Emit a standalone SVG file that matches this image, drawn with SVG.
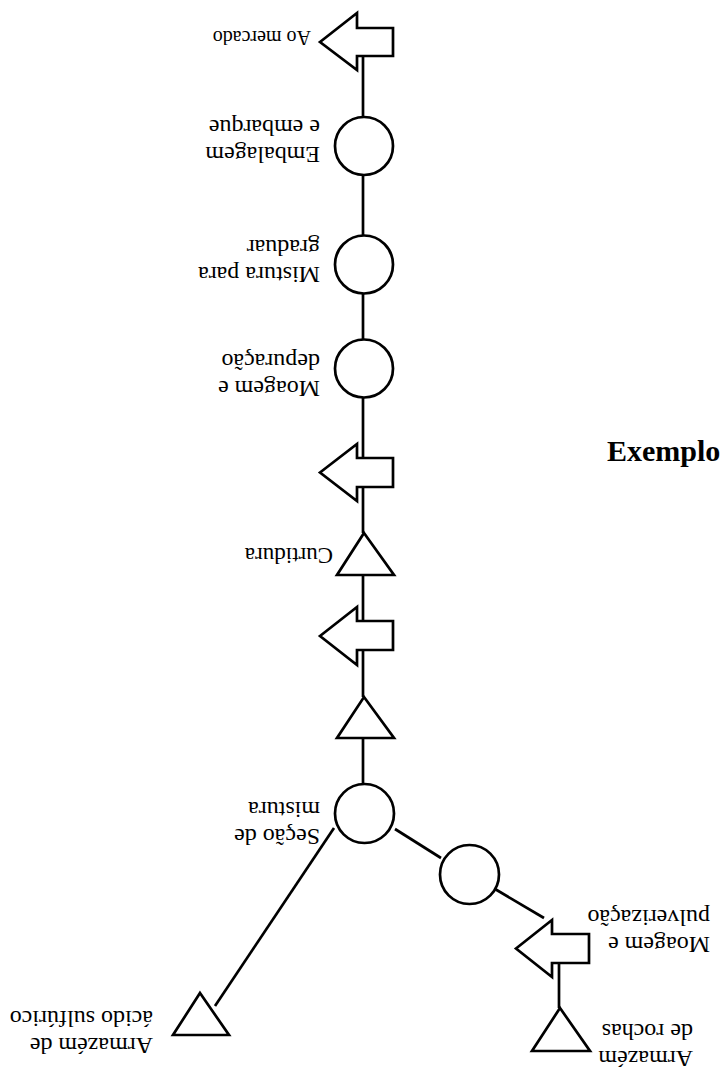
<svg xmlns="http://www.w3.org/2000/svg" width="727" height="1070" viewBox="0 0 727 1070">
  <style>
    .shape { fill: #fff; stroke: #000; stroke-width: 2.7; stroke-linejoin: miter; }
    .link { fill: none; stroke: #000; stroke-width: 2.7; }
    .label { font-family: "Liberation Serif", "Times New Roman", serif; font-size: 24px; fill: #000; }
    .title { font-family: "Liberation Serif", "Times New Roman", serif; font-size: 30px; font-weight: bold; fill: #000; }
  </style>

  <!-- connectors -->
  <g id="connectors">
    <line class="link" x1="363" y1="56" x2="363" y2="117"/>
    <line class="link" x1="363" y1="175" x2="363" y2="235"/>
    <line class="link" x1="363" y1="294" x2="363" y2="339"/>
    <line class="link" x1="363" y1="398" x2="363" y2="458"/>
    <line class="link" x1="363" y1="487" x2="363" y2="533"/>
    <line class="link" x1="363" y1="575" x2="363" y2="621"/>
    <line class="link" x1="363" y1="650" x2="363" y2="697"/>
    <line class="link" x1="363" y1="738" x2="363" y2="784"/>
    <line class="link" x1="395" y1="829" x2="441" y2="858"/>
    <line class="link" x1="495" y1="889" x2="544" y2="918"/>
    <line class="link" x1="559" y1="963" x2="559" y2="1008"/>
    <line class="link" x1="334" y1="828" x2="215" y2="1006"/>
  </g>

  <!-- nodes -->
  <g id="ao-mercado">
    <polygon class="shape" points="320,42 357,13 357,28 393,28 393,56 357,56 357,70"/>
    <text class="label" style="font-size:20px" transform="translate(311 31) rotate(180)">Ao mercado</text>
  </g>

  <g id="embalagem">
    <circle class="shape" cx="364" cy="146" r="29"/>
    <text class="label" transform="translate(320 147) rotate(180)"><tspan x="0" y="0">Embalagem</tspan><tspan x="0" y="27">e embarque</tspan></text>
  </g>

  <g id="mistura-graduar">
    <circle class="shape" cx="364" cy="264.5" r="29"/>
    <text class="label" transform="translate(320 267) rotate(180)"><tspan x="0" y="0">Mistura para</tspan><tspan x="0" y="27">graduar</tspan></text>
  </g>

  <g id="moagem-depuracao">
    <circle class="shape" cx="364" cy="368.5" r="29"/>
    <text class="label" transform="translate(320 381) rotate(180)"><tspan x="0" y="0">Moagem e</tspan><tspan x="0" y="27">depuração</tspan></text>
  </g>

  <g id="transporte-1">
    <polygon class="shape" points="320,472.5 357,444 357,458 393,458 393,487 357,487 357,501"/>
  </g>

  <g id="curtidura">
    <polygon class="shape" points="364,533 394,575 337,575"/>
    <text class="label" style="font-size:23px" transform="translate(333 548) rotate(180)">Curtidura</text>
  </g>

  <g id="transporte-2">
    <polygon class="shape" points="320,636 357,607 357,621 393,621 393,650 357,650 357,665"/>
  </g>

  <g id="armazem-intermedio">
    <polygon class="shape" points="364,697 394,738 337,738"/>
  </g>

  <g id="secao-mistura">
    <circle class="shape" cx="364.5" cy="813.5" r="29.5"/>
    <text class="label" transform="translate(320 829) rotate(180)"><tspan x="0" y="0">Seção de</tspan><tspan x="0" y="27">mistura</tspan></text>
  </g>

  <g id="britagem">
    <circle class="shape" cx="469.5" cy="874.5" r="29.5"/>
  </g>

  <g id="moagem-pulverizacao">
    <polygon class="shape" points="516,948.5 552,920 552,934 589,934 589,963 552,963 552,977"/>
    <text class="label" transform="translate(710 937) rotate(180)"><tspan x="0" y="0">Moagem e</tspan><tspan x="0" y="27">pulverização</tspan></text>
  </g>

  <g id="armazem-rochas">
    <polygon class="shape" points="560,1008 590,1051 532,1051"/>
    <text class="label" transform="translate(693 1051) rotate(180)"><tspan x="0" y="0">Armazém</tspan><tspan x="0" y="27">de rochas</tspan></text>
  </g>

  <g id="armazem-acido">
    <polygon class="shape" points="200,993 229,1035 173,1035"/>
    <text class="label" transform="translate(153 1038) rotate(180)"><tspan x="0" y="0">Armazém de</tspan><tspan x="0" y="27">ácido sulfúrico</tspan></text>
  </g>

  <text id="titulo" class="title" x="607" y="461">Exemplo</text>
</svg>
